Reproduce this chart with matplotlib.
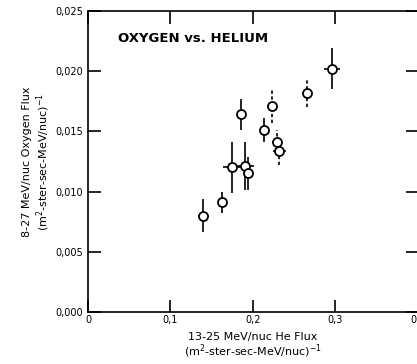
import matplotlib
matplotlib.use("Agg")
import matplotlib.pyplot as plt

he_flux = [0.140, 0.162, 0.175, 0.186, 0.191, 0.1935, 0.213, 0.2227, 0.229, 0.232, 0.266, 0.296]
ox_flux = [0.0080, 0.0091, 0.0120, 0.0164, 0.0121, 0.0115, 0.0151, 0.0171, 0.0141, 0.0134, 0.0182, 0.0202]
ox_err  = [0.0014, 0.0009, 0.0021, 0.0013, 0.0020, 0.0014, 0.0010, 0.0014, 0.0010, 0.0012, 0.0012, 0.0017]
he_err  = [0.007, 0.004, 0.011, 0.003, 0.010, 0.006, 0.003, 0.006, 0.006, 0.008, 0.006, 0.010]
dashed  = [False, False, False, False, False, False, False, True, True, True, True, False]

xticks = [0, 0.1, 0.2, 0.3, 0.4]
xticklabels = ["0", "0,1", "0,2", "0,3", "0,4"]
yticks = [0.0, 0.005, 0.010, 0.015, 0.020, 0.025]
yticklabels = ["0,000", "0,005", "0,010", "0,015", "0,020", "0,025"]

fig = plt.figure(figsize=(4.17, 3.64), dpi=100)
ax = fig.add_axes([0.211, 0.143, 0.791, 0.827])

for x, y, ye, xe, d in zip(he_flux, ox_flux, ox_err, he_err, dashed):
    eb = ax.errorbar(x, y, yerr=ye, xerr=xe, fmt='o', mfc='white', mec='black',
                     ms=6.5, mew=1.3, ecolor='black', elinewidth=1.2, capsize=0, zorder=3)
    if d:
        for lc in eb[2]:
            lc.set_linestyle((0, (2, 1.5)))

ax.set_xlim(0, 0.4)
ax.set_ylim(0, 0.025)
ax.set_xticks(xticks)
ax.set_xticklabels(xticklabels)
ax.set_yticks(yticks)
ax.set_yticklabels(yticklabels)
ax.tick_params(direction='in', length=9, width=1.2, top=True, right=True, labelsize=7)
ax.tick_params(axis='x', pad=2)
for s in ax.spines.values():
    s.set_linewidth(1.2)

ax.text(0.09, 0.91, "OXYGEN vs. HELIUM", transform=ax.transAxes, fontsize=9.5,
        fontweight='bold', va='center', ha='left')

ax.set_ylabel("8-27 MeV/nuc Oxygen Flux\n(m$^2$-ster-sec-MeV/nuc)$^{-1}$", fontsize=8, labelpad=2)
ax.set_xlabel("13-25 MeV/nuc He Flux\n(m$^2$-ster-sec-MeV/nuc)$^{-1}$", fontsize=8,
              labelpad=5, linespacing=1.05)

fig.savefig("out.png", dpi=100)
